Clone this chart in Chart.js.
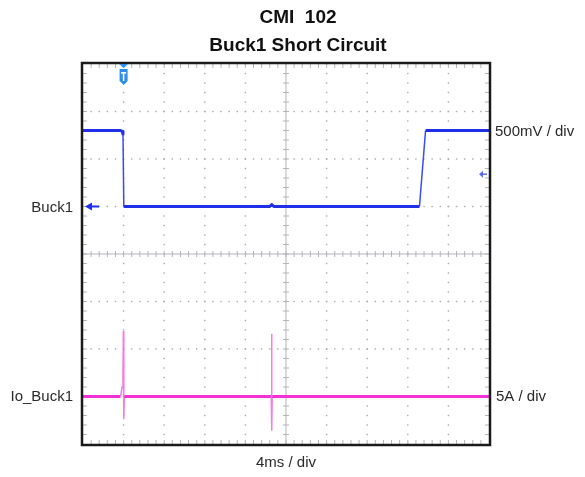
<!DOCTYPE html>
<html><head><meta charset="utf-8">
<script src="https://cdn.jsdelivr.net/npm/chart.js@4"></script>
<style>html,body{margin:0;padding:0;background:#fff}#wrap{width:585px;height:477px}</style>
</head><body><div id="wrap"><canvas id="c" width="585" height="477"></canvas></div>
<script>
// ---- data ----
const titleLines = ['CMI  102', 'Buck1 Short Circuit'];
const channelNames = ['Buck1', 'Io_Buck1'];
const scaleLabels = ['500mV / div', '5A / div'];
const timebaseLabel = '4ms / div';

const buck1TimeMs = [-4, -0.3, -0.14, -0.06, 0.02, 14.4, 14.6, 14.8, 29.15, 29.75, 36];
const buck1Volts  = [0.80, 0.80, 0.79, 0.76, 0.0, 0.0, 0.02, 0.0, 0.0, 0.80, 0.80];

const ioTimeMs = [-4, -0.3, -0.14, -0.06, -0.02, 0.02, 0.07, 14.55, 14.58, 14.61, 14.64, 36];
const ioAmps   = [0, 0, 1.0, 2.8, 6.9, -2.4, 0, 0, 6.6, -3.6, 0, 0];

const triggerTimeMs = 0;
const triggerLevelV = 0.34;

const timeRange = [-4, 36];      // 10 div x 4 ms
const buck1Range = [-2.5, 1.5];  // 8 div x 0.5 V
const ioRange = [-5, 35];        // 8 div x 5 A

// ---- colours ----
const BLUE = '#1f30e8';
const BLUE_THIN = '#3a4cf0';
const PINK = '#f431d6';
const PINK_THIN = '#f57be6';
const FONT = '"Liberation Sans", Arial, sans-serif';

const pts = (xs, ys) => xs.map((x, i) => ({x, y: ys[i]}));

const scopePlugin = {
  id: 'scope',
  beforeDatasetsDraw(chart) {
    const {ctx, chartArea: a, scales} = chart;
    const xs = scales.x, ys = scales.yB;
    const xDiv = i => xs.getPixelForValue(timeRange[0] + i * 4);
    const yDiv = j => ys.getPixelForValue(buck1Range[0] + j * 0.5);
    ctx.save();
    // dotted grid
    ctx.fillStyle = '#a9a9a9';
    for (let i = 1; i < 10; i++) {
      if (i === 5) continue;
      const x = xDiv(i);
      for (let k = 0; k <= 40; k++) {
        const y = yDiv(k / 5);
        ctx.fillRect(x - 0.7, y - 0.7, 1.4, 1.4);
      }
    }
    for (let j = 1; j < 8; j++) {
      if (j === 4) continue;
      const y = yDiv(j);
      for (let k = 0; k <= 50; k++) {
        const x = xDiv(k / 5);
        ctx.fillRect(x - 0.7, y - 0.7, 1.4, 1.4);
      }
    }
    // center axes with minor ticks
    ctx.strokeStyle = '#b4b4bc';
    ctx.lineWidth = 1;
    const cx = xDiv(5), cy = yDiv(4);
    ctx.beginPath();
    ctx.moveTo(cx, a.top); ctx.lineTo(cx, a.bottom);
    ctx.moveTo(a.left, cy); ctx.lineTo(a.right, cy);
    for (let k = 1; k < 40; k++) { const y = yDiv(k / 5); ctx.moveTo(cx - 3, y); ctx.lineTo(cx + 3, y); }
    for (let k = 1; k < 50; k++) { const x = xDiv(k / 5); ctx.moveTo(x, cy - 3); ctx.lineTo(x, cy + 3); }
    // frame minor ticks
    for (let k = 1; k < 50; k++) {
      const x = xDiv(k / 5);
      ctx.moveTo(x, a.top); ctx.lineTo(x, a.top + 4);
      ctx.moveTo(x, a.bottom); ctx.lineTo(x, a.bottom - 4);
    }
    for (let k = 1; k < 40; k++) {
      const y = yDiv(k / 5);
      ctx.moveTo(a.left, y); ctx.lineTo(a.left + 4, y);
      ctx.moveTo(a.right, y); ctx.lineTo(a.right - 4, y);
    }
    ctx.stroke();
    ctx.restore();
  },
  afterDatasetsDraw(chart) {
    const {ctx, chartArea: a, scales} = chart;
    ctx.save();
    // frame
    ctx.strokeStyle = '#1a1a1a';
    ctx.lineWidth = 2.5;
    ctx.strokeRect(a.left - 1, a.top - 1, a.right - a.left + 2, a.bottom - a.top + 2);
    // trigger marker
    const tx = scales.x.getPixelForValue(triggerTimeMs);
    ctx.fillStyle = '#2b8fea';
    ctx.beginPath();
    ctx.moveTo(tx - 4.5, a.top); ctx.lineTo(tx + 4.5, a.top); ctx.lineTo(tx, a.top + 4); ctx.closePath();
    ctx.fill();
    ctx.beginPath();
    const bt = a.top + 5;
    ctx.moveTo(tx - 4, bt); ctx.lineTo(tx + 4, bt); ctx.lineTo(tx + 4, bt + 12);
    ctx.lineTo(tx, bt + 16); ctx.lineTo(tx - 4, bt + 12); ctx.closePath();
    ctx.fill();
    ctx.fillStyle = '#fff';
    ctx.fillRect(tx - 2.5, bt + 3, 5, 1.6);
    ctx.fillRect(tx - 0.8, bt + 3, 1.6, 9);
    // ground arrow Buck1 (left)
    const gy = scales.yB.getPixelForValue(0);
    ctx.strokeStyle = BLUE; ctx.fillStyle = BLUE; ctx.lineWidth = 2;
    ctx.beginPath(); ctx.moveTo(a.left + 6, gy); ctx.lineTo(a.left + 16, gy); ctx.stroke();
    ctx.beginPath(); ctx.moveTo(a.left + 2, gy); ctx.lineTo(a.left + 9, gy - 4); ctx.lineTo(a.left + 9, gy + 4); ctx.closePath(); ctx.fill();
    // trigger level arrow (right)
    const ty = scales.yB.getPixelForValue(triggerLevelV);
    ctx.strokeStyle = '#5a6af0'; ctx.fillStyle = '#5a6af0'; ctx.lineWidth = 1.5;
    ctx.beginPath(); ctx.moveTo(a.right - 8, ty); ctx.lineTo(a.right - 2, ty); ctx.stroke();
    ctx.beginPath(); ctx.moveTo(a.right - 10, ty); ctx.lineTo(a.right - 6, ty - 3.5); ctx.lineTo(a.right - 6, ty + 3.5); ctx.closePath(); ctx.fill();
    ctx.restore();
  },
  afterDraw(chart) {
    const {ctx, chartArea: a, scales} = chart;
    ctx.save();
    ctx.fillStyle = '#111';
    ctx.font = 'bold 19px ' + FONT;
    ctx.textAlign = 'center'; ctx.textBaseline = 'middle';
    ctx.fillText(titleLines[0], 298, 18);
    ctx.fillText(titleLines[1], 298, 46);
    ctx.fillStyle = '#2a2a2a';
    ctx.font = '15px ' + FONT;
    const yB0 = scales.yB.getPixelForValue(0);
    const yI0 = scales.yI.getPixelForValue(0);
    ctx.textAlign = 'right';
    ctx.fillText(channelNames[0], a.left - 10, yB0 + 1);
    ctx.fillText(channelNames[1], a.left - 10, yI0);
    ctx.textAlign = 'left';
    ctx.fillText(scaleLabels[0], a.right + 6, scales.yB.getPixelForValue(0.8) + 1);
    ctx.fillText(scaleLabels[1], a.right + 7, yI0);
    ctx.textAlign = 'center';
    ctx.fillText(timebaseLabel, (a.left + a.right) / 2, a.bottom + 19);
    ctx.restore();
  }
};

const steep = (ctx, lim) => Math.abs(ctx.p1.parsed.y - ctx.p0.parsed.y) > lim;

new Chart(document.getElementById('c'), {
  type: 'line',
  data: {
    datasets: [
      {
        label: channelNames[0], data: pts(buck1TimeMs, buck1Volts), yAxisID: 'yB',
        borderColor: BLUE, borderWidth: 3, pointRadius: 0, tension: 0,
        borderJoinStyle: 'round',
        segment: {
          borderWidth: c => steep(c, 0.1) ? 1.5 : 3,
          borderColor: c => steep(c, 0.1) ? BLUE_THIN : BLUE
        }
      },
      {
        label: channelNames[1], data: pts(ioTimeMs, ioAmps), yAxisID: 'yI',
        borderColor: PINK, borderWidth: 3, pointRadius: 0, tension: 0,
        segment: {
          borderWidth: c => steep(c, 0.5) ? 1.5 : 3,
          borderColor: c => steep(c, 0.5) ? PINK_THIN : PINK
        }
      }
    ]
  },
  options: {
    responsive: false,
    animation: false,
    devicePixelRatio: 1,
    layout: {padding: {left: 83, right: 96, top: 64, bottom: 33}},
    plugins: {legend: {display: false}, tooltip: {enabled: false}, title: {display: false}},
    scales: {
      x: {type: 'linear', min: timeRange[0], max: timeRange[1], display: false},
      yB: {type: 'linear', min: buck1Range[0], max: buck1Range[1], display: false},
      yI: {type: 'linear', min: ioRange[0], max: ioRange[1], display: false}
    }
  },
  plugins: [scopePlugin]
});
</script>
</body></html>
